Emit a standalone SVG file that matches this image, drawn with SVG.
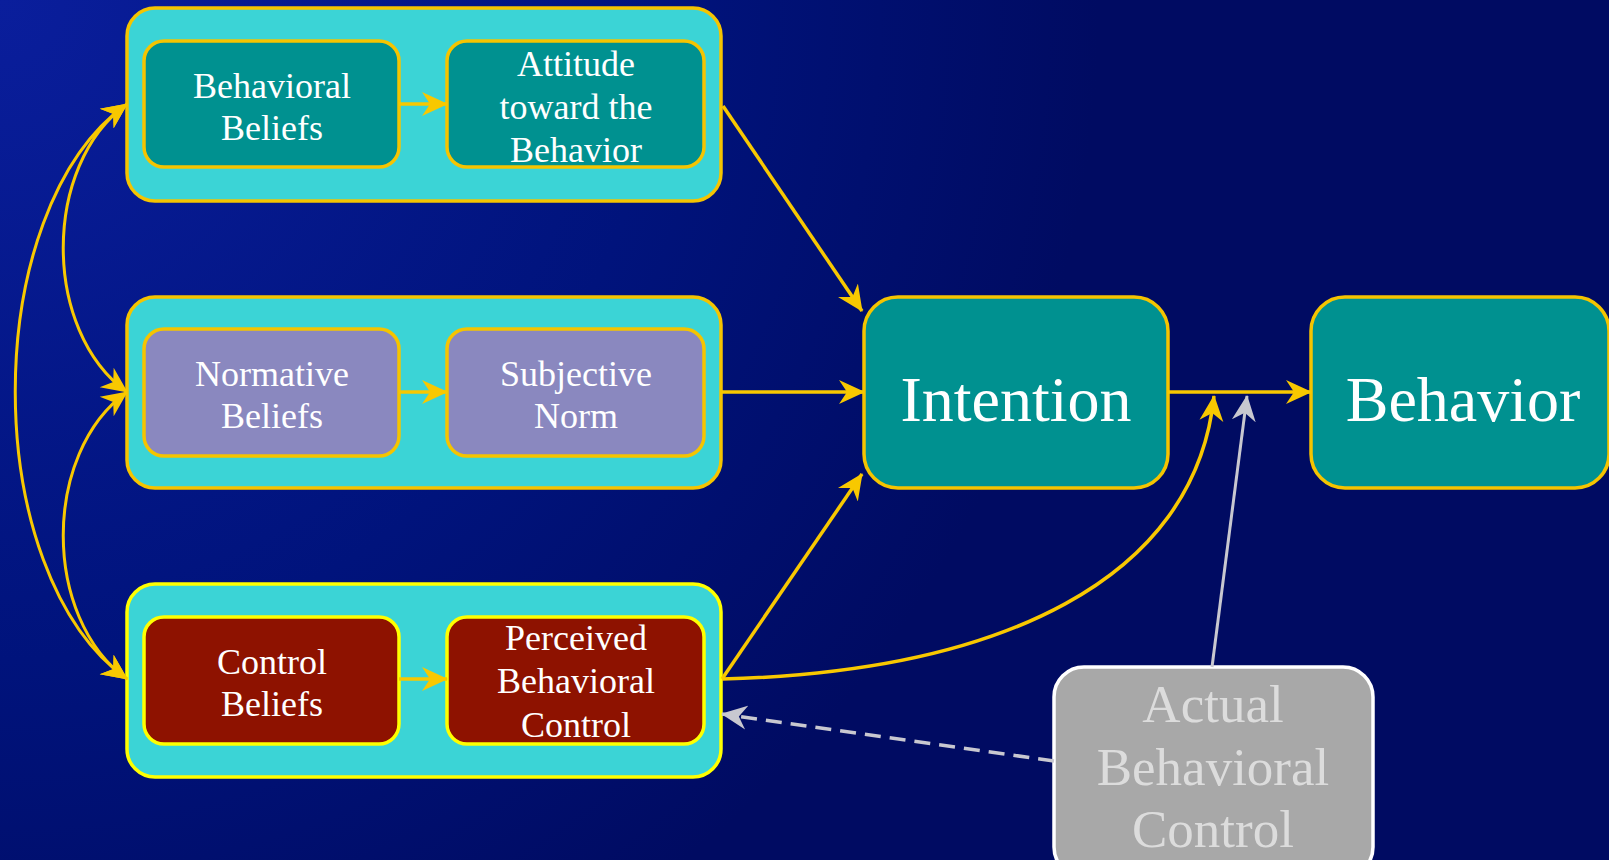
<svg xmlns="http://www.w3.org/2000/svg" width="1609" height="860" viewBox="0 0 1609 860">
<defs>
<radialGradient id="bg" gradientUnits="userSpaceOnUse" cx="0" cy="0" r="1100">
<stop offset="0" stop-color="#0a1e9c"/>
<stop offset="0.6" stop-color="#00137c"/>
<stop offset="1" stop-color="#000b62"/>
</radialGradient>
<marker id="ay" markerUnits="userSpaceOnUse" viewBox="0 0 26 26" markerWidth="26" markerHeight="26" refX="25" refY="13" orient="auto-start-reverse">
<path d="M0,1 L26,13 L0,25 L8,13 z" fill="#f8c800"/>
</marker>
<marker id="ag" markerUnits="userSpaceOnUse" viewBox="0 0 26 26" markerWidth="26" markerHeight="26" refX="25" refY="13" orient="auto-start-reverse">
<path d="M0,1 L26,13 L0,25 L8,13 z" fill="#c8c8d0"/>
</marker>
</defs>
<style>
.outer{fill:#3bd4d6;stroke:#f5c400;stroke-width:3.5}
.outer3{fill:#3bd4d6;stroke:#ffff00;stroke-width:3.5}
.teal{fill:#009190;stroke:#f5c400;stroke-width:3.5}
.purple{fill:#8a88bf;stroke:#f5c400;stroke-width:3.5}
.red{fill:#8e1200;stroke:#ffff00;stroke-width:3.5}
.gray{fill:#a8a8a8;stroke:#ffffff;stroke-width:3.5}
.t{font-family:"Liberation Serif","Times New Roman",serif;fill:#ffffff;text-anchor:middle}
.s{font-size:36px}
.b{font-size:64px}
.g{font-size:53px;fill:#dcdcdc}
.ly{fill:none;stroke:#f8c800;stroke-width:3.5;marker-end:url(#ay)}
.lyd{fill:none;stroke:#f8c800;stroke-width:3;marker-start:url(#ay);marker-end:url(#ay)}
</style>
<rect width="1609" height="860" fill="url(#bg)"/>

<g id="group-attitude">
<rect class="outer" x="127" y="8" width="594" height="193" rx="28"/>
</g>
<g id="group-norm">
<rect class="outer" x="127" y="297" width="594" height="191" rx="28"/>
</g>
<g id="group-control">
<rect class="outer3" x="127" y="584" width="594" height="193" rx="28"/>
</g>

<g id="behavioral-beliefs">
<rect class="teal" x="144" y="41" width="255" height="126" rx="20"/>
<text class="t s" x="272" y="98">Behavioral</text>
<text class="t s" x="272" y="140">Beliefs</text>
</g>
<g id="attitude">
<rect class="teal" x="447" y="41" width="257" height="126" rx="20"/>
<text class="t s" x="576" y="76">Attitude</text>
<text class="t s" x="576" y="119">toward the</text>
<text class="t s" x="576" y="162">Behavior</text>
</g>
<g id="normative-beliefs">
<rect class="purple" x="144" y="329" width="255" height="127" rx="20"/>
<text class="t s" x="272" y="386">Normative</text>
<text class="t s" x="272" y="428">Beliefs</text>
</g>
<g id="subjective-norm">
<rect class="purple" x="447" y="329" width="257" height="127" rx="20"/>
<text class="t s" x="576" y="386">Subjective</text>
<text class="t s" x="576" y="428">Norm</text>
</g>
<g id="control-beliefs">
<rect class="red" x="144" y="617" width="255" height="127" rx="20"/>
<text class="t s" x="272" y="674">Control</text>
<text class="t s" x="272" y="716">Beliefs</text>
</g>
<g id="perceived-behavioral-control">
<rect class="red" x="447" y="617" width="257" height="127" rx="20"/>
<text class="t s" x="576" y="650">Perceived</text>
<text class="t s" x="576" y="693">Behavioral</text>
<text class="t s" x="576" y="737">Control</text>
</g>
<g id="intention">
<rect class="teal" x="864" y="297" width="304" height="191" rx="34"/>
<text class="t b" x="1016" y="421">Intention</text>
</g>
<g id="behavior">
<rect class="teal" x="1311" y="297" width="298" height="191" rx="34"/>
<text class="t b" x="1463" y="421">Behavior</text>
</g>
<g id="actual-behavioral-control">
<rect class="gray" x="1054" y="667" width="319" height="210" rx="30"/>
<text class="t g" x="1213" y="722">Actual</text>
<text class="t g" x="1213" y="785">Behavioral</text>
<text class="t g" x="1213" y="847">Control</text>
</g>

<g id="connectors">
<path class="ly" d="M399,104 L447,104"/>
<path class="ly" d="M399,392 L447,392"/>
<path class="ly" d="M399,679 L447,679"/>
<path class="ly" d="M723,106 L862,311"/>
<path class="ly" d="M722,392 L864,392"/>
<path class="ly" d="M722,679 L862,474"/>
<path class="ly" d="M1168,392 L1311,392"/>
<path class="ly" d="M722,679 C1000,672 1195,580 1214,396"/>
<path d="M1212,667 L1247,396" fill="none" stroke="#c8c8d0" stroke-width="3" marker-end="url(#ag)"/>
<path d="M1054,761 L722,714" fill="none" stroke="#c8c8d0" stroke-width="3.5" stroke-dasharray="16,9" marker-end="url(#ag)"/>
<path class="lyd" d="M127,104 C-22,210 -22,573 127,679"/>
<path class="lyd" d="M127,104 C42,165 42,331 127,392"/>
<path class="lyd" d="M127,392 C42,453 42,618 127,679"/>
</g>
</svg>
